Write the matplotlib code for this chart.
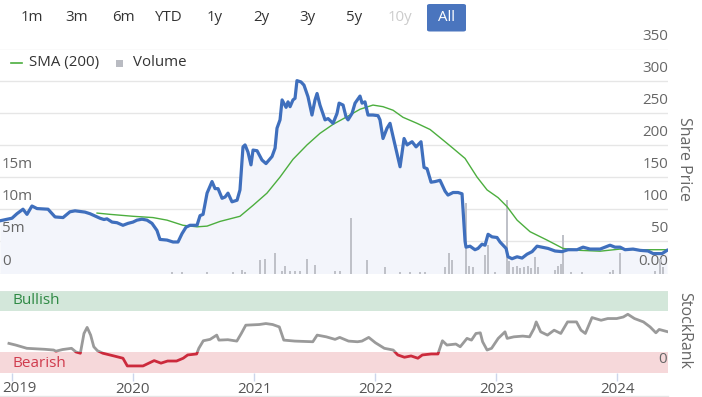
import matplotlib
matplotlib.use("Agg")
import matplotlib.pyplot as plt
from matplotlib.patches import Rectangle, FancyBboxPatch
from matplotlib.lines import Line2D
import numpy as np

plt.rcParams['font.family'] = ['Open Sans', 'DejaVu Sans']

# ---------------- data ----------------
price_x = [2018.901, 2019.000, 2019.041, 2019.091, 2019.124, 2019.165, 2019.207, 2019.298, 2019.356, 2019.422,
           2019.479, 2019.521, 2019.603, 2019.645, 2019.703, 2019.727, 2019.760, 2019.785, 2019.827, 2019.868,
           2019.917, 2019.959, 2020.000, 2020.033, 2020.074, 2020.116, 2020.157, 2020.198, 2020.223, 2020.281,
           2020.331, 2020.372, 2020.405, 2020.438, 2020.471, 2020.529, 2020.554, 2020.579, 2020.612, 2020.653,
           2020.678, 2020.703, 2020.736, 2020.761, 2020.785, 2020.818, 2020.860, 2020.884, 2020.909, 2020.926,
           2020.950, 2020.975, 2020.992, 2021.025, 2021.066, 2021.099, 2021.149, 2021.174, 2021.190, 2021.215,
           2021.232, 2021.265, 2021.281, 2021.298, 2021.322, 2021.339, 2021.355, 2021.388, 2021.413, 2021.446,
           2021.479, 2021.504, 2021.521, 2021.545, 2021.587, 2021.612, 2021.653, 2021.686, 2021.703, 2021.736,
           2021.760, 2021.777, 2021.810, 2021.835, 2021.876, 2021.893, 2021.917, 2021.942, 2021.983, 2022.025,
           2022.041, 2022.066, 2022.099, 2022.124, 2022.149, 2022.207, 2022.240, 2022.265, 2022.306, 2022.339,
           2022.380, 2022.405, 2022.430, 2022.463, 2022.496, 2022.537, 2022.579, 2022.603, 2022.645, 2022.686,
           2022.719, 2022.744, 2022.752, 2022.785, 2022.826, 2022.851, 2022.884, 2022.909, 2022.934, 2022.967,
           2023.008, 2023.033, 2023.058, 2023.083, 2023.099, 2023.132, 2023.174, 2023.215, 2023.256, 2023.298,
           2023.339, 2023.380, 2023.430, 2023.488, 2023.545, 2023.595, 2023.670, 2023.719, 2023.777, 2023.860,
           2023.942, 2023.983, 2024.025, 2024.066, 2024.132, 2024.190, 2024.256, 2024.298, 2024.372, 2024.413]
price_y = [82, 86, 93, 100, 92, 105, 101, 100, 88, 87,
           96, 97.5, 95.5, 93, 88, 86, 84, 85, 80, 79,
           75, 78, 80, 83, 84.5, 83, 78, 67, 53, 52,
           49, 49, 62, 72, 75, 75, 90, 92, 125, 143,
           132, 132, 117, 119, 125, 111.5, 114, 130, 197, 200,
           189, 169, 192, 191, 176.5, 171, 182, 195, 226, 239,
           270, 258.5, 267, 259.5, 270, 272.5, 300, 298, 293, 275,
           246.5, 270, 280, 262, 239, 241, 233.6, 249, 265, 262,
           244, 239, 249, 265, 276, 265, 267, 246.5, 246.5, 245.5,
           239, 210, 226, 233.6, 213, 166, 210, 200, 205, 197,
           205, 165, 163, 142, 143, 145, 128, 122, 126, 126,
           124, 50, 41, 42.5, 37, 39, 45.6, 44, 61, 57,
           56, 49, 44, 39, 26, 23, 26, 24, 30, 34,
           42.5, 41, 39, 35, 34, 37, 37, 41, 38, 38,
           44, 41, 41, 37, 38, 36, 35, 31, 31, 36]

sma_x = [2019.703, 2019.810, 2020.000, 2020.165, 2020.281, 2020.413, 2020.529, 2020.612, 2020.719, 2020.884,
         2020.992, 2021.107, 2021.215, 2021.322, 2021.438, 2021.545, 2021.653, 2021.769, 2021.876, 2021.983,
         2022.066, 2022.149, 2022.231, 2022.347, 2022.455, 2022.562, 2022.645, 2022.744, 2022.843, 2022.926,
         2023.017, 2023.091, 2023.174, 2023.281, 2023.421, 2023.554, 2023.694, 2023.860, 2024.025, 2024.190,
         2024.413]
sma_y = [94, 92, 89, 87, 83, 75, 72.6, 73.7, 81, 89,
         106, 125, 150, 177.6, 200, 218, 232, 244, 255.5, 262,
         259.5, 254, 243, 233.6, 224, 207.6, 194.7, 179, 150, 130,
         118, 104, 83, 65, 52, 39, 36, 34.7, 38, 37,
         37]

vol_x = [2020.322, 2020.405, 2020.612, 2020.826, 2020.901, 2020.926, 2021.050, 2021.091, 2021.174, 2021.232,
         2021.256, 2021.298, 2021.339, 2021.380, 2021.438, 2021.504, 2021.669, 2021.711, 2021.802, 2021.934,
         2022.083, 2022.207, 2022.289, 2022.372, 2022.413, 2022.579, 2022.612, 2022.636, 2022.752, 2022.777,
         2022.810, 2022.909, 2022.934, 2022.992, 2023.091, 2023.107, 2023.141, 2023.174, 2023.198, 2023.231,
         2023.264, 2023.289, 2023.322, 2023.347, 2023.488, 2023.512, 2023.537, 2023.554, 2023.620, 2023.711,
         2023.942, 2023.967, 2024.025, 2024.314, 2024.355, 2024.380]
vol_y = [0.3, 0.3, 0.3, 0.3, 0.6, 0.3, 2.1, 2.3, 3.2, 0.4,
         1.1, 0.4, 0.4, 0.4, 2.3, 1.4, 0.4, 0.4, 8.7, 2.1,
         1.0, 0.3, 0.3, 0.3, 0.3, 1.0, 3.2, 2.1, 10.9, 1.2,
         1.0, 2.85, 4.4, 0.3, 11.4, 2.0, 1.0, 1.2, 0.9, 1.0,
         1.2, 0.8, 2.6, 1.0, 0.6, 1.2, 1.5, 6.0, 0.3, 0.3,
         0.3, 0.5, 3.2, 0.4, 2.2, 1.0]

rank_x = [2018.975, 2019.030, 2019.123, 2019.270, 2019.344, 2019.363, 2019.418, 2019.492, 2019.529, 2019.565,
          2019.595, 2019.621, 2019.650, 2019.676, 2019.706, 2019.751, 2019.842, 2019.917, 2019.953, 2020.008,
          2020.083, 2020.175, 2020.231, 2020.286, 2020.360, 2020.415, 2020.452, 2020.526, 2020.544, 2020.581,
          2020.637, 2020.692, 2020.710, 2020.784, 2020.858, 2020.895, 2020.932, 2021.043, 2021.098, 2021.154,
          2021.209, 2021.246, 2021.338, 2021.486, 2021.522, 2021.597, 2021.670, 2021.708, 2021.781, 2021.855,
          2021.892, 2021.948, 2022.003, 2022.077, 2022.150, 2022.188, 2022.243, 2022.298, 2022.354, 2022.391,
          2022.465, 2022.520, 2022.531, 2022.557, 2022.594, 2022.668, 2022.704, 2022.760, 2022.797, 2022.834,
          2022.870, 2022.889, 2022.926, 2022.963, 2023.018, 2023.074, 2023.092, 2023.147, 2023.221, 2023.277,
          2023.314, 2023.332, 2023.369, 2023.425, 2023.480, 2023.535, 2023.591, 2023.665, 2023.702, 2023.738,
          2023.793, 2023.868, 2023.923, 2023.997, 2024.052, 2024.089, 2024.144, 2024.218, 2024.273, 2024.321,
          2024.348, 2024.421]
rank_y = [35.5, 33.5, 29.5, 28.3, 27.4, 26, 28, 29.5, 25, 23.5,
          47.6, 55, 45.6, 31.4, 26.6, 23.5, 20.2, 17.4, 8, 8,
          8, 14.5, 11.4, 14, 14, 17.4, 21.4, 22.6, 29.5, 38.7,
          40.4, 45.6, 39.5, 40, 38.3, 47.6, 57.7, 58.5, 59.7, 58.5,
          55.6, 39.5, 38.3, 37.5, 45.6, 43.5, 40.4, 42.8, 38.3, 37.5,
          38.3, 42.8, 36.3, 29.5, 27.4, 21.4, 18.6, 20.2, 17.4, 21.4,
          22.6, 22.6, 27.4, 38.7, 33.5, 34.7, 31.4, 41.6, 39.5, 47.6,
          48.4, 37.5, 27.4, 29.5, 41.6, 49.6, 41.6, 43.5, 44.4, 43.5,
          53.7, 61.7, 49.6, 45.6, 51.6, 47.6, 61.7, 61.7, 51.6, 47.6,
          67, 63.7, 65.8, 65.8, 67.7, 71, 65.8, 61.7, 55.6, 48.4,
          52.5, 49.6]

years = [2019, 2020, 2021, 2022, 2023, 2024]
price_ticks = [0, 50, 100, 150, 200, 250, 300, 350]
price_labels = ['0.00', '50', '100', '150', '200', '250', '300', '350']
vol_ticks = [0, 5, 10, 15]
vol_labels = ['0', '5m', '10m', '15m']
range_buttons = ['1m', '3m', '6m', 'YTD', '1y', '2y', '3y', '5y', '10y', 'All']

# ---------------- layout ----------------
W, H = 702, 397
fig = plt.figure(figsize=(W / 100, H / 100), dpi=100)
FS = 10.8

def fy(py):
    return 1 - py / H

XMIN, XMAX = 2018.901, 2024.421
PLOT_R = 668

# main axes
ax = fig.add_axes([0, fy(273.5), PLOT_R / W, (273.5 - 48.5) / H])
ax.set_xlim(XMIN, XMAX)
ax.set_ylim(0, 350)
for s in ax.spines.values():
    s.set_visible(False)
ax.set_xticks([])
ax.set_yticks([])
for t in price_ticks:
    ax.axhline(t, color='#e6e6e6', lw=1, zorder=0)

axv = ax.twinx()
axv.set_ylim(0, 35)
axv.set_xlim(XMIN, XMAX)
for s in axv.spines.values():
    s.set_visible(False)
axv.set_yticks([])
axv.bar(vol_x, vol_y, width=0.016, color='#bfc1c8', zorder=1, linewidth=0)

ax.fill_between(price_x, price_y, 0, color='#f3f5fb', zorder=0.5, lw=0)
ax.set_zorder(axv.get_zorder() - 1)
ax.patch.set_visible(False)
axv.plot(sma_x, np.array(sma_y) / 10.0, color='#4cae3e', lw=1.0, zorder=3)
axv.plot(price_x, np.array(price_y) / 10.0, color='#3f6fbd', lw=2.3, zorder=4,
         solid_joinstyle='round')

# price labels (right) and volume labels (left)
for t, lab in zip(price_ticks, price_labels):
    ax.annotate(lab, xy=(1.0, t), xycoords=('axes fraction', 'data'),
                xytext=(0, 3.5), textcoords='offset points', ha='right', va='bottom',
                fontsize=FS, color='#666666', annotation_clip=False)
for t, lab in zip(vol_ticks, vol_labels):
    axv.annotate(lab, xy=(0.0, t), xycoords=('axes fraction', 'data'),
                 xytext=(1.5, 3.5), textcoords='offset points', ha='left', va='bottom',
                 fontsize=FS, color='#666666', annotation_clip=False)

# legend
fig.add_artist(Line2D([11 / W, 22 / W], [fy(62.5), fy(62.5)], color='#4cae3e', lw=1.2))
fig.text(29 / W, fy(62.5), 'SMA (200)', fontsize=FS, color='#333333', va='center', ha='left')
fig.add_artist(Rectangle((116 / W, fy(67)), 7 / W, 7 / H, color='#b9bbc2', lw=0))
fig.text(133 / W, fy(62.5), 'Volume', fontsize=FS, color='#333333', va='center', ha='left')

# range buttons
btn_x = [32, 77, 123, 169, 215, 261, 307, 354, 400, 446]
for lab, bx in zip(range_buttons, btn_x):
    if lab == 'All':
        fig.add_artist(FancyBboxPatch((427 / W, fy(31.5)), 39 / W, 27.5 / H,
                                      boxstyle='round,pad=0,rounding_size=0.004',
                                      color='#4a75be', lw=0))
        col = 'white'
    elif lab == '10y':
        col = '#cccccc'
    else:
        col = '#333333'
    fig.text(bx / W, fy(17.5), lab, fontsize=FS, color=col, ha='center', va='center')

fig.text(684 / W, fy(159), 'Share Price', rotation=270, fontsize=11.5, color='#666666',
         ha='center', va='center')
fig.text(684 / W, fy(330), 'StockRank', rotation=270, fontsize=11.5, color='#666666',
         ha='center', va='center')

# ---------------- StockRank panel ----------------
axb = fig.add_axes([0, fy(372.5), PLOT_R / W, (372.5 - 290.5) / H])
axb.set_xlim(XMIN, XMAX)
axb.set_ylim(0, 100)
for s in axb.spines.values():
    s.set_visible(False)
axb.axhspan(75, 100, color='#d3e7da', lw=0, zorder=0)
axb.axhspan(0, 25, color='#f6d8da', lw=0, zorder=0)
axb.axhline(100.5, color='#e6e6e6', lw=1)
axb.text(2019.005, 87.5, 'Bullish', fontsize=11, color='#2f8a45', va='center', ha='left')
axb.text(2019.005, 11, 'Bearish', fontsize=11, color='#d03b4d', va='center', ha='left')
axb.annotate('0', xy=(1.0, 0), xycoords=('axes fraction', 'data'), xytext=(-1, 4),
             textcoords='offset points', ha='right', va='bottom', fontsize=FS, color='#666666')

lg, = axb.plot(rank_x, rank_y, color='#9a9a9a', lw=2.0, zorder=3)
lr, = axb.plot(rank_x, rank_y, color='#cc2a3c', lw=2.0, zorder=3)
lg.set_clip_path(Rectangle((XMIN, 25), XMAX - XMIN, 80, transform=axb.transData))
lr.set_clip_path(Rectangle((XMIN, -5), XMAX - XMIN, 30, transform=axb.transData))

axb.set_yticks([])
axb.set_xticks(years)
axb.set_xticklabels([])
axb.tick_params(axis='x', length=6, width=1, color='#ccd6eb')
for i, yr in enumerate(years):
    if i == 0:
        fig.text(2.5 / W, fy(388.5), str(yr), fontsize=FS, color='#555555',
                 ha='left', va='center')
    else:
        axb.annotate(str(yr), xy=(yr, 0), xycoords=('data', 'axes fraction'),
                     xytext=(0, -12), textcoords='offset points', ha='center', va='center',
                     fontsize=FS, color='#555555', annotation_clip=False)

fig.add_artist(Line2D([0, PLOT_R / W], [fy(396), fy(396)], color='#e6e6e6', lw=1))

fig.savefig('out.png', dpi=100)
